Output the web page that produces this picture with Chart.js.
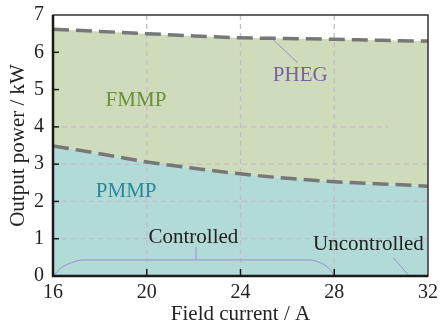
<!DOCTYPE html>
<html>
<head>
<meta charset="utf-8">
<script src="https://cdn.jsdelivr.net/npm/chart.js@4/dist/chart.umd.min.js"></script>
<style>
  html, body { margin: 0; padding: 0; background: #fff; }
  #wrap { width: 443px; height: 325px; }
</style>
</head>
<body>
<div id="wrap"><canvas id="chart"></canvas></div>
<script>
// field current (A) and the two boundary curves (kW)
const fieldCurrent = [16, 18, 20, 22, 24, 26, 28, 30, 32];
const phegPower = [6.62, 6.56, 6.5, 6.44, 6.39, 6.37, 6.35, 6.32, 6.3];
const pmmpPower = [3.49, 3.28, 3.06, 2.89, 2.74, 2.62, 2.53, 2.47, 2.41];

// "Controlled" bracket and pointer lines
const bracketX = [16, 16.35, 16.8, 17.3, 26.9, 27.4, 27.75, 28];
const bracketY = [0, 0.22, 0.36, 0.43, 0.43, 0.36, 0.22, 0.03];
const bracketTickX = [22.1, 22.1];
const bracketTickY = [0.43, 0.78];
const uncontrolledX = [30.52, 31.2];
const uncontrolledY = [0.49, 0];
const phegLeaderX = [25.27, 26.44];
const phegLeaderY = [6.41, 5.72];

const gridX = [20, 24, 28];
const gridY = [1, 2, 3, 4];

// region labels: text, x, y (data units), colour
const labelText = ['FMMP', 'PMMP', 'PHEG', 'Controlled', 'Uncontrolled'];
const labelX = [19.54, 19.12, 26.55, 21.99, 29.46];
const labelY = [4.72, 2.28, 5.37, 1.03, 0.85];
const labelColor = ['#6b8e3a', '#2b8898', '#7b5fa6', '#222222', '#222222'];

const FONT = '"Liberation Serif", "Times New Roman", serif';
Chart.defaults.font.family = FONT;
Chart.defaults.color = '#222';

const pts = (xs, ys) => xs.map((x, i) => ({ x: x, y: ys[i] }));

const decor = {
  id: 'decor',
  beforeDatasetsDraw(chart) {
    const { ctx, chartArea: a, scales: { x, y } } = chart;
    ctx.save();
    ctx.strokeStyle = '#c4bcc6';
    ctx.lineWidth = 1.3;
    ctx.setLineDash([5, 4]);
    gridX.forEach(v => {
      const px = x.getPixelForValue(v);
      ctx.beginPath(); ctx.moveTo(px, a.top); ctx.lineTo(px, a.bottom); ctx.stroke();
    });
    gridY.forEach(v => {
      const py = y.getPixelForValue(v);
      const end = v === 4 ? x.getPixelForValue(30.3) : a.right;
      ctx.beginPath(); ctx.moveTo(a.left, py); ctx.lineTo(end, py); ctx.stroke();
    });
    ctx.restore();
  },
  afterDatasetsDraw(chart) {
    const { ctx, chartArea: a, scales: { x, y } } = chart;
    ctx.save();
    // frame
    ctx.strokeStyle = '#333';
    ctx.lineWidth = 1.5;
    ctx.strokeRect(a.left, a.top, a.right - a.left, a.bottom - a.top);
    ctx.strokeStyle = '#1a1a1a';
    ctx.lineWidth = 2.5;
    ctx.beginPath();
    ctx.moveTo(a.left, a.top); ctx.lineTo(a.left, a.bottom); ctx.lineTo(a.right, a.bottom);
    ctx.stroke();
    // inward tick marks
    ctx.lineWidth = 1.5;
    x.ticks.forEach(t => {
      if (t.value <= 16 || t.value >= 32) return;
      const px = x.getPixelForValue(t.value);
      ctx.beginPath(); ctx.moveTo(px, a.bottom); ctx.lineTo(px, a.bottom - 7); ctx.stroke();
    });
    y.ticks.forEach(t => {
      if (t.value <= 0 || t.value >= 7) return;
      const py = y.getPixelForValue(t.value);
      ctx.beginPath(); ctx.moveTo(a.left, py); ctx.lineTo(a.left + 6, py); ctx.stroke();
    });
    // labels
    ctx.font = '21px ' + FONT;
    ctx.textAlign = 'center';
    ctx.textBaseline = 'middle';
    labelText.forEach((t, i) => {
      ctx.fillStyle = labelColor[i];
      ctx.fillText(t, x.getPixelForValue(labelX[i]), y.getPixelForValue(labelY[i]));
    });
    ctx.restore();
  }
};

const thin = { borderColor: '#9a8fd0', borderWidth: 1, pointRadius: 0, fill: false };

new Chart(document.getElementById('chart'), {
  type: 'line',
  data: {
    datasets: [
      {
        data: pts(fieldCurrent, pmmpPower),
        borderColor: '#777', borderWidth: 3.5, borderDash: [16, 7],
        backgroundColor: '#b2dad7', fill: 'origin',
        pointRadius: 0, cubicInterpolationMode: 'monotone'
      },
      {
        data: pts(fieldCurrent, phegPower),
        borderColor: '#777', borderWidth: 3.5, borderDash: [16, 7],
        backgroundColor: '#cfdcbc', fill: '-1',
        pointRadius: 0, cubicInterpolationMode: 'monotone'
      },
      Object.assign({ data: pts(bracketX, bracketY), cubicInterpolationMode: 'monotone' }, thin),
      Object.assign({ data: pts(bracketTickX, bracketTickY) }, thin),
      Object.assign({ data: pts(uncontrolledX, uncontrolledY), borderColor: '#7b5fa6' }, thin),
      Object.assign({ data: pts(phegLeaderX, phegLeaderY), borderColor: '#6b55a0' }, thin)
    ]
  },
  options: {
    responsive: true,
    maintainAspectRatio: false,
    animation: false,
    layout: { padding: { left: 0, right: 9, top: 15, bottom: 0 } },
    plugins: {
      legend: { display: false },
      tooltip: { enabled: false },
      filler: { drawTime: 'beforeDatasetsDraw' }
    },
    scales: {
      x: {
        type: 'linear', min: 16, max: 32,
        grid: { display: false, drawTicks: false },
        border: { display: false },
        ticks: { stepSize: 4, padding: 5, font: { size: 20 }, color: '#222' },
        title: { display: true, text: 'Field current / A', font: { size: 21 }, padding: { top: 0, bottom: -2 }, color: '#222' },
        afterFit(s) { s.height = 49; }
      },
      y: {
        min: 0, max: 7,
        grid: { display: false, drawTicks: false },
        border: { display: false },
        ticks: { stepSize: 1, padding: 9, font: { size: 20 }, color: '#222' },
        title: { display: true, text: 'Output power / kW', font: { size: 21 }, padding: { top: 6, bottom: 0 }, color: '#222' },
        afterFit(s) { s.width = 53; s.paddingTop = 0; s.paddingBottom = 0; }
      }
    }
  },
  plugins: [decor]
});
</script>
</body>
</html>
